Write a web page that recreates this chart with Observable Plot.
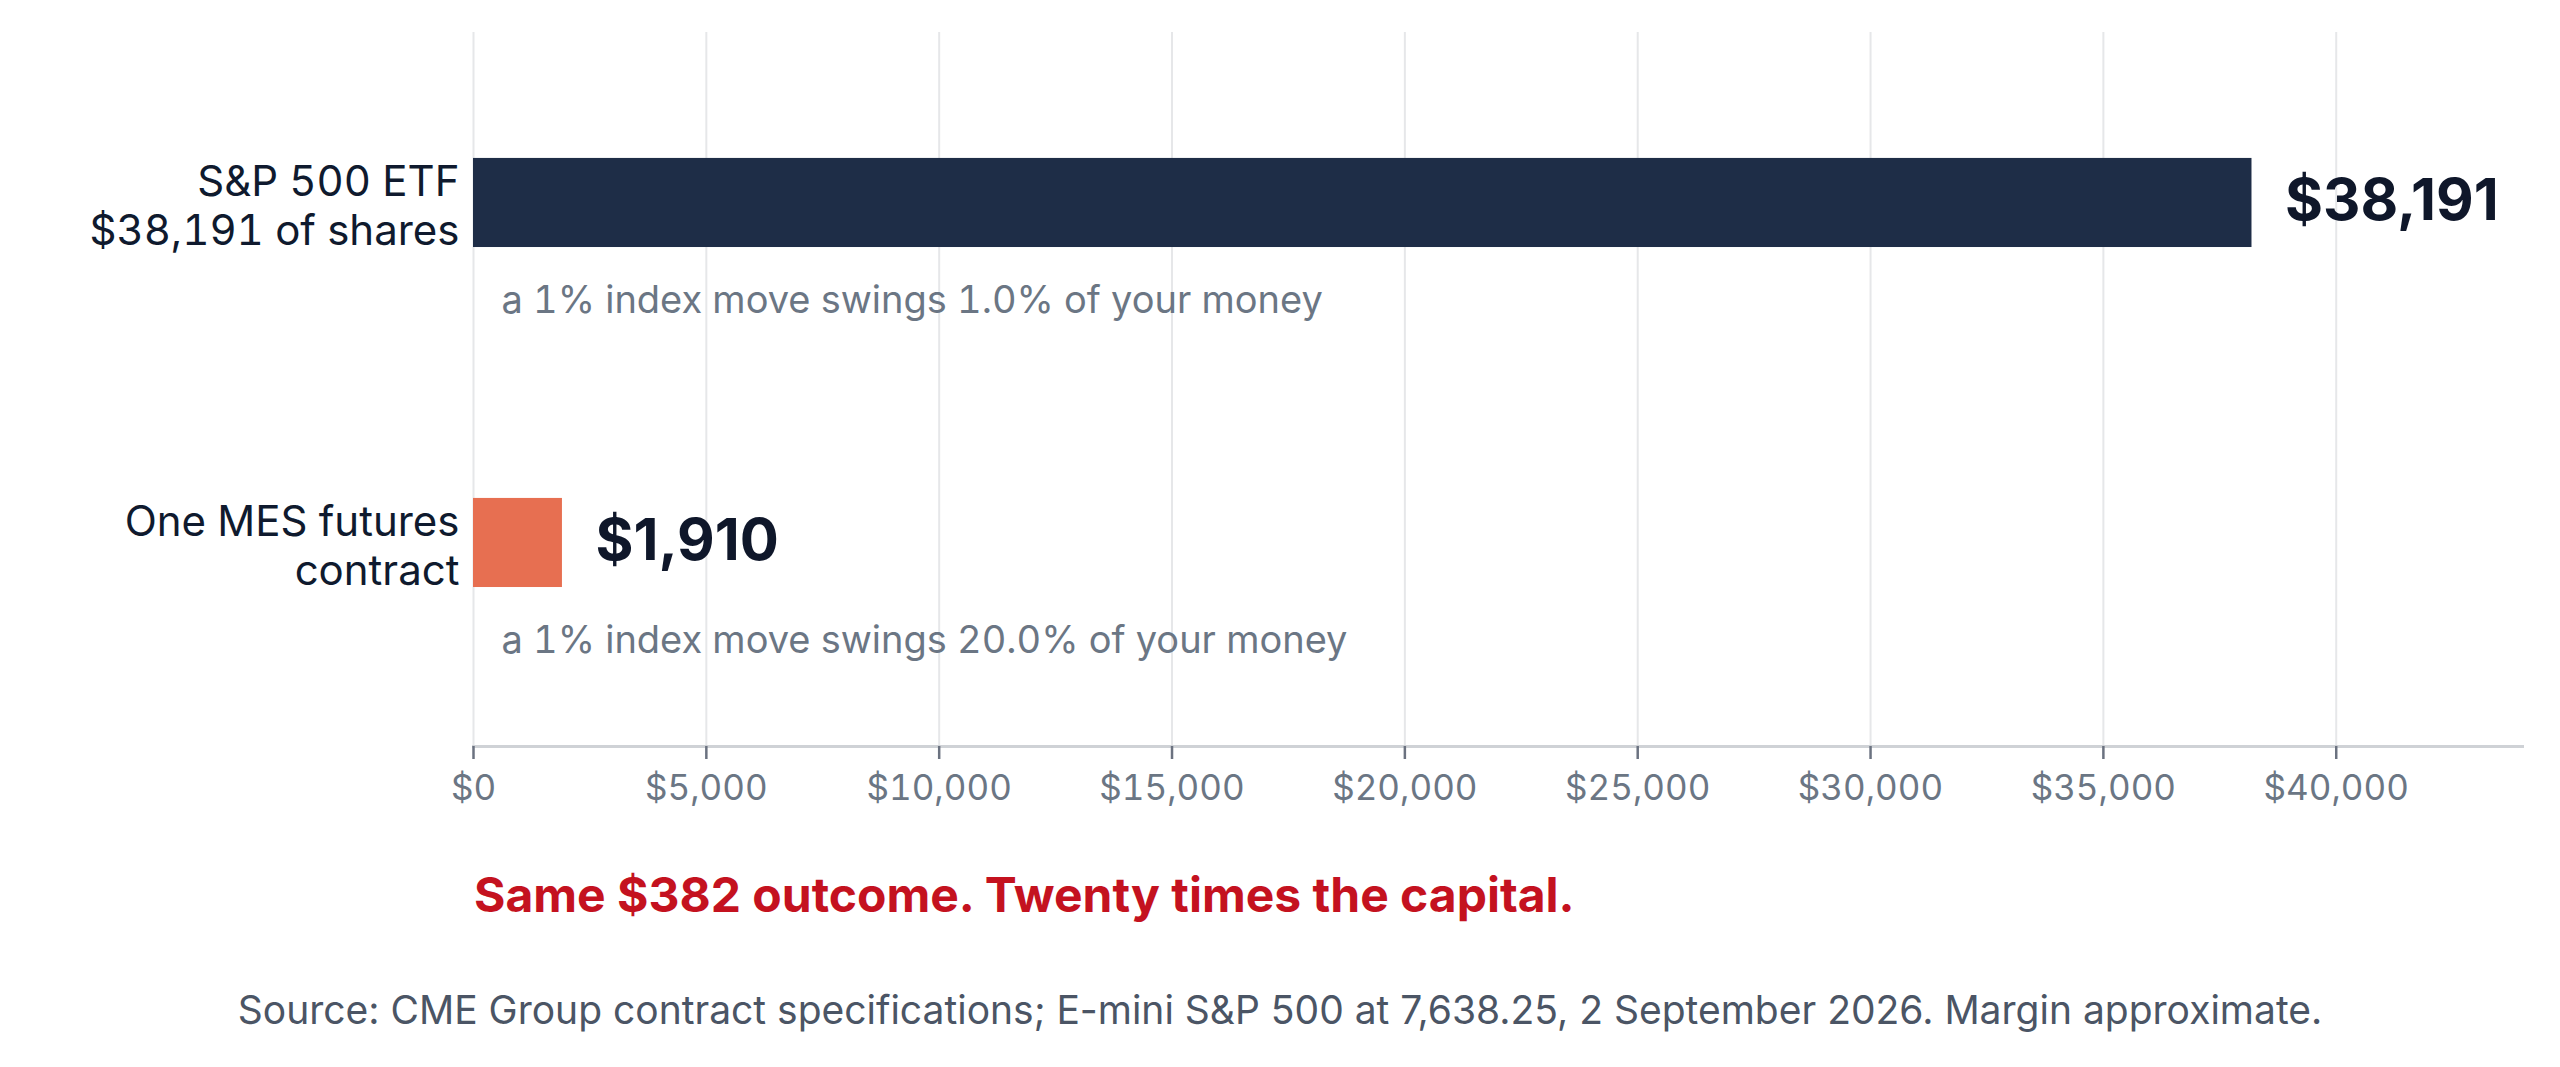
<!DOCTYPE html>
<html>
<head>
<meta charset="utf-8">
<script src="https://cdn.jsdelivr.net/npm/d3@7"></script>
<script src="https://cdn.jsdelivr.net/npm/@observablehq/plot@0.6"></script>
<style>
  html, body { margin: 0; padding: 0; background: #ffffff; }
  body { width: 2560px; height: 1067px; position: relative; font-family: Inter, "Noto Sans", sans-serif; }
  #chart { position: absolute; left: 0; top: 0; }
  #headline { position: absolute; left: 474px; top: 866px; font-size: 48px; line-height: 1.2; font-weight: 700; color: #c4121f; white-space: nowrap; }
  #source { position: absolute; left: 0; width: 2560px; top: 987px; text-align: center; font-size: 39px; line-height: 1.2; color: #4b5565; white-space: nowrap; }
</style>
</head>
<body>
<div id="chart"></div>
<div id="headline">Same $382 outcome. Twenty times the capital.</div>
<div id="source">Source: CME Group contract specifications; E-mini S&amp;P 500 at 7,638.25, 2 September 2026. Margin approximate.</div>
<script>
const categories = ["S&P 500 ETF\n$38,191 of shares", "One MES futures\ncontract"];
const capital = [38191, 1910];
const swingPct = [1.0, 20.0];
const barColors = ["#1e2d47", "#e76f51"];
const xTicks = [0, 5000, 10000, 15000, 20000, 25000, 30000, 35000, 40000];
const xMax = 44000;

const rows = categories.map((c, i) => ({
  category: c,
  value: capital[i],
  swing: swingPct[i],
  color: barColors[i]
}));

const money = d3.format("$,");

const chart = Plot.plot({
  width: 2560,
  height: 816,
  marginLeft: 473,
  marginRight: 38,
  marginTop: 32,
  marginBottom: 70,
  style: { fontFamily: "Inter, 'Noto Sans', sans-serif", background: "transparent" },
  x: { domain: [0, xMax] },
  y: { type: "band", domain: categories, paddingInner: 0.738, paddingOuter: 0.419, align: 0.442, round: false },
  marks: [
    Plot.gridX(xTicks, { stroke: "#e6e7e9", strokeOpacity: 1, strokeWidth: 2 }),
    Plot.frame({ anchor: "bottom", stroke: "#cfd2d6", strokeWidth: 3 }),
    Plot.axisX({
      ticks: xTicks,
      tickFormat: money,
      tickSize: 13,
      tickPadding: 16,
      stroke: "#6b7280",
      strokeWidth: 2.5,
      fill: "#6b7684",
      fontSize: 35,
      fontVariant: "tabular-nums",
      label: null
    }),
    Plot.axisY({
      tickSize: 0,
      tickPadding: 14,
      fill: "#0f1a2e",
      fontSize: 42,
      lineHeight: 1.17,
      dy: 2,
      fontVariant: "tabular-nums",
      label: null
    }),
    Plot.barX(rows, { x: "value", y: "category", fill: "color" }),
    Plot.text(rows, {
      x: "value",
      y: "category",
      text: d => money(d.value),
      textAnchor: "start",
      dx: 33,
      dy: -2,
      fill: "#0f172a",
      fontSize: 58,
      fontWeight: 700
    }),
    Plot.text(rows, {
      x: 0,
      y: "category",
      text: d => `a 1% index move swings ${d.swing.toFixed(1)}% of your money`,
      textAnchor: "start",
      dx: 28,
      dy: 98,
      fill: "#6b7684",
      fontSize: 38,
      fontVariant: "tabular-nums"
    })
  ]
});

document.getElementById("chart").appendChild(chart);
</script>
</body>
</html>
